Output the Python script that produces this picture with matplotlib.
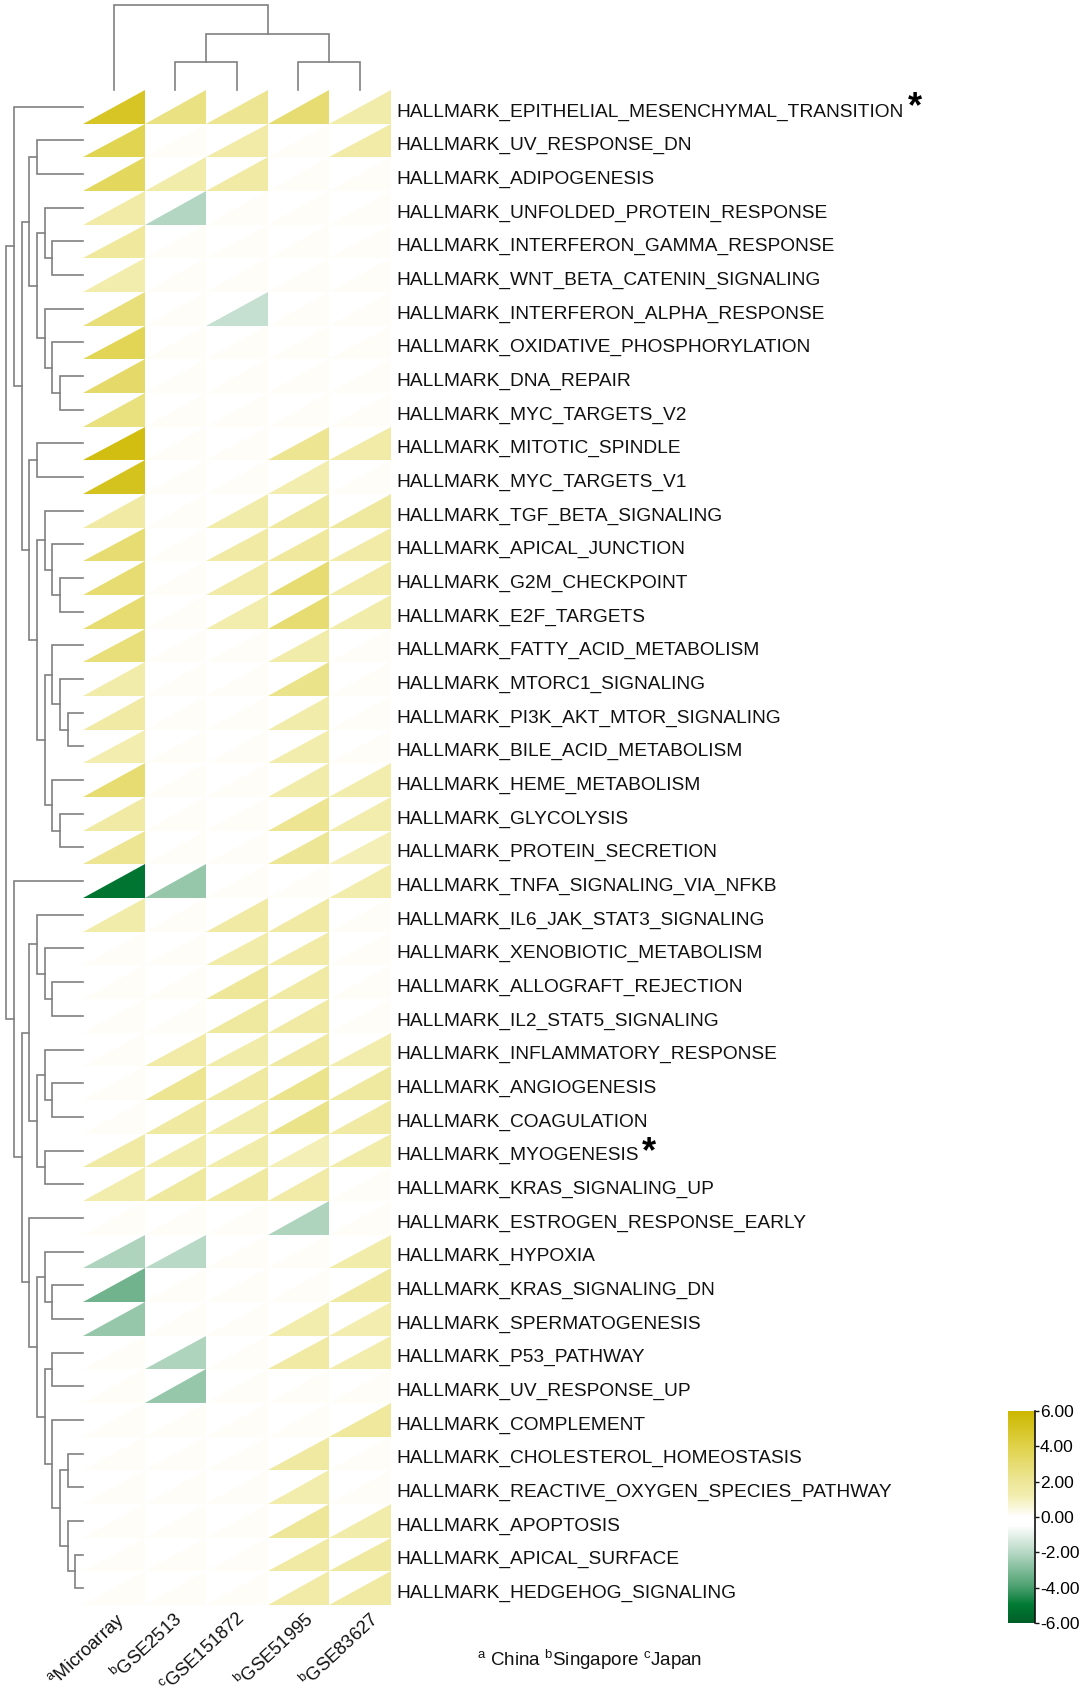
import matplotlib
matplotlib.use('Agg')
import matplotlib.pyplot as plt
from matplotlib.collections import PolyCollection
from matplotlib.colors import LinearSegmentedColormap, Normalize

plt.rcParams['font.family'] = 'Liberation Sans'
plt.rcParams['mathtext.fontset'] = 'custom'
plt.rcParams['mathtext.rm'] = 'Liberation Sans'

W, H = 1085, 1700

pathways = ['EPITHELIAL_MESENCHYMAL_TRANSITION', 'UV_RESPONSE_DN', 'ADIPOGENESIS',
            'UNFOLDED_PROTEIN_RESPONSE', 'INTERFERON_GAMMA_RESPONSE', 'WNT_BETA_CATENIN_SIGNALING',
            'INTERFERON_ALPHA_RESPONSE', 'OXIDATIVE_PHOSPHORYLATION', 'DNA_REPAIR', 'MYC_TARGETS_V2',
            'MITOTIC_SPINDLE', 'MYC_TARGETS_V1', 'TGF_BETA_SIGNALING', 'APICAL_JUNCTION',
            'G2M_CHECKPOINT', 'E2F_TARGETS', 'FATTY_ACID_METABOLISM', 'MTORC1_SIGNALING',
            'PI3K_AKT_MTOR_SIGNALING', 'BILE_ACID_METABOLISM', 'HEME_METABOLISM', 'GLYCOLYSIS',
            'PROTEIN_SECRETION', 'TNFA_SIGNALING_VIA_NFKB', 'IL6_JAK_STAT3_SIGNALING',
            'XENOBIOTIC_METABOLISM', 'ALLOGRAFT_REJECTION', 'IL2_STAT5_SIGNALING',
            'INFLAMMATORY_RESPONSE', 'ANGIOGENESIS', 'COAGULATION', 'MYOGENESIS', 'KRAS_SIGNALING_UP',
            'ESTROGEN_RESPONSE_EARLY', 'HYPOXIA', 'KRAS_SIGNALING_DN', 'SPERMATOGENESIS', 'P53_PATHWAY',
            'UV_RESPONSE_UP', 'COMPLEMENT', 'CHOLESTEROL_HOMEOSTASIS', 'REACTIVE_OXYGEN_SPECIES_PATHWAY',
            'APOPTOSIS', 'APICAL_SURFACE', 'HEDGEHOG_SIGNALING']
datasets = ['$\\mathregular{^{a}}$Microarray', '$\\mathregular{^{b}}$GSE2513', '$\\mathregular{^{c}}$GSE151872',
            '$\\mathregular{^{b}}$GSE51995', '$\\mathregular{^{b}}$GSE83627']

microarray = [5.0, 3.8, 3.5, 1.5, 1.9, 1.3, 2.8, 3.7, 3.2, 2.7, 5.5, 5.2, 1.6, 3.0, 3.0,
              3.0, 2.8, 1.4, 1.6, 1.2, 3.0, 1.6, 2.2, -5.2, 1.4, 0.1, 0.1, 0.1, 0.1, 0.1,
              0.1, 1.6, 1.3, 0.1, -2.2, -3.3, -2.6, 0.1, 0.1, 0.1, 0.1, 0.1, 0.1, 0.1, 0.1]
gse2513 = [2.6, 0.1, 1.4, -2.1, 0.1, 0.1, 0.1, 0.1, 0.1, 0.1, 0.1, 0.1, 0.1, 0.1, 0.1,
           0.1, 0.1, 0.1, 0.1, 0.1, 0.1, 0.1, 0.1, -2.6, 0.1, 0.1, 0.1, 0.1, 1.5, 2.2,
           1.7, 1.4, 1.8, 0.1, -2.0, 0.1, 0.1, -2.2, -2.6, 0.1, 0.1, 0.1, 0.1, 0.1, 0.1]
gse151872 = [2.2, 1.5, 1.6, 0.1, 0.1, 0.1, -1.7, 0.1, 0.1, 0.1, 0.1, 0.1, 1.4, 1.6, 1.5,
             1.3, 0.1, 0.1, 0.1, 0.1, 0.1, 0.1, 0.1, 0.1, 1.6, 1.4, 2.0, 1.8, 1.4, 1.7,
             1.4, 1.4, 1.7, 0.1, 0.1, 0.1, 0.1, 0.1, 0.1, 0.1, 0.1, 0.1, 0.1, 0.1, 0.1]
gse51995 = [3.0, 0.1, 0.1, 0.1, 0.1, 0.1, 0.1, 0.1, 0.1, 0.1, 2.2, 1.2, 1.8, 1.9, 3.0,
            3.0, 1.4, 2.4, 1.4, 1.3, 1.4, 2.2, 2.1, 0.1, 1.6, 1.5, 1.6, 1.6, 1.7, 2.3,
            2.4, 1.1, 1.5, -2.2, 0.1, 0.1, 1.3, 1.6, 0.1, 0.1, 1.7, 1.3, 2.0, 1.6, 1.5]
gse83627 = [1.4, 1.5, 0.1, 0.1, 0.1, 0.1, 0.1, 0.1, 0.1, 0.1, 1.5, 0.1, 1.8, 1.5, 1.5,
            1.4, 0.1, 0.1, 0.1, 0.1, 1.3, 1.3, 1.1, 1.3, 0.1, 0.1, 0.1, 0.1, 1.3, 1.8,
            1.6, 1.4, 0.1, 0.1, 1.4, 1.7, 1.2, 1.3, 0.1, 1.9, 0.1, 0.1, 1.4, 1.7, 1.6]
series = [microarray, gse2513, gse151872, gse51995, gse83627]

# trees as (level, left, right), leaves are plain indices
row_tree = (10,
            (9, 0,
             (8,
              (7, (6, 1, 2),
               (6, (5, 3, (4, 4, 5)),
                (5, 6, (4, 7, (3, 8, 9))))),
              (7, (6, 10, 11),
               (6, (5, 12, (4, 13, (3, 14, 15))),
                (5, (4, 16, (3, 17, (2, 18, 19))),
                 (4, 20, (3, 21, 22))))))),
            (9, 23,
             (8,
              (7, (6, 24, (5, 25, (4, 26, 27))),
               (6, (5, 28, (4, 29, 30)), (5, 31, 32))),
              (7, 33,
               (6, (5, 34, (4, 35, 36)),
                (5, (4, 37, 38),
                 (4, 39, (3, (2, 40, 41), (2, 42, (1, 43, 44))))))))))
col_tree = (3, 0, (2, (1, 1, 2), (1, 3, 4)))

cbar_ticks = [6, 4, 2, 0, -2, -4, -6]

cmap = LinearSegmentedColormap.from_list('gwy', [(0.0, '#005f28'), (1/12, '#007a33'), (1/6, '#4a9f6e'), (1/3, '#b8d9c6'),
                                                 (0.46, '#ffffff'), (0.5, '#ffffff'), (0.6, '#f3eeb0'),
                                                 (2/3, '#eee79a'), (5/6, '#e0d24a'), (1.0, '#ccb800')])
norm = Normalize(-6, 6)

fig = plt.figure(figsize=(W / 100, H / 100), dpi=100)

# heatmap, one unit per cell
left, right, top, bottom = 83, 390.5, 90, 1605
ax = fig.add_axes([left / W, 1 - bottom / H, (right - left) / W, (bottom - top) / H])
ax.set_xlim(0, len(series))
ax.set_ylim(len(pathways), 0)
ax.axis('off')
polys, colors = [], []
for c, vals in enumerate(series):
    for r, v in enumerate(vals):
        polys.append([(c, r + 1), (c + 1, r + 1), (c + 1, r)])
        colors.append(cmap(norm(v)))
ax.add_collection(PolyCollection(polys, facecolors=colors, edgecolors='none'))

for r, name in enumerate(pathways):
    ax.text(len(series) + 0.09, r + 0.66, 'HALLMARK_' + name, fontsize=13.8, va='center', ha='left', color='#111111')

ax.annotate('*', xy=(915 / W, 1 - 108 / H), xycoords='figure fraction', fontsize=26, fontweight='bold', ha='center', va='center')
ax.annotate('*', xy=(649 / W, 1 - 1153 / H), xycoords='figure fraction', fontsize=26, fontweight='bold', ha='center', va='center')

# row dendrogram
step_x = 7.67 / ((right - left) / len(series))
tree_col = '#808080'


def draw_row(node):
    if not isinstance(node, tuple):
        return 0, node + 0.5
    lev, a, b = node
    la, ya = draw_row(a)
    lb, yb = draw_row(b)
    ax.plot([-la * step_x, -lev * step_x, -lev * step_x, -lb * step_x], [ya, ya, yb, yb],
            color=tree_col, lw=1.2, clip_on=False, solid_joinstyle='miter')
    return lev, (ya + yb) / 2


draw_row(row_tree)

# column dendrogram
step_y = 28.2 / ((bottom - top) / len(pathways))


def draw_col(node):
    if not isinstance(node, tuple):
        return 0, node + 0.5
    lev, a, b = node
    la, xa = draw_col(a)
    lb, xb = draw_col(b)
    ax.plot([xa, xa, xb, xb], [-la * step_y, -lev * step_y, -lev * step_y, -lb * step_y],
            color=tree_col, lw=1.2, clip_on=False, solid_joinstyle='miter')
    return lev, (xa + xb) / 2


draw_col(col_tree)

# rotated column names
label_x = [115, 173, 236, 304, 369]
for name, x in zip(datasets, label_x):
    fig.text(x / W, 1 - 1609 / H, name, rotation=43, rotation_mode='anchor', ha='right', va='top',
             fontsize=13.2, color='#111111')

fig.text(477 / W, 1 - 1660 / H,
         '$\\mathregular{^{a}}$ China $\\mathregular{^{b}}$Singapore $\\mathregular{^{c}}$Japan',
         fontsize=13.5, va='center', ha='left', color='#111111')

# colour bar
cax = fig.add_axes([1008 / W, 1 - 1623 / H, 26.5 / W, 212 / H])
grad = [[v] for v in range(600, -601, -1)]
cax.imshow(grad, cmap=cmap, vmin=-600, vmax=600, aspect='auto', extent=[0, 1, -6, 6])
cax.set_xticks([])
cax.yaxis.tick_right()
cax.set_yticks(cbar_ticks)
cax.set_yticklabels(['%.2f' % t for t in cbar_ticks], fontsize=12.5)
cax.tick_params(axis='y', length=3, width=1, pad=1, color='#111111')
for side in ('top', 'left', 'bottom'):
    cax.spines[side].set_visible(False)
cax.spines['right'].set_linewidth(1.2)
cax.spines['right'].set_color('#111111')

fig.savefig('out.png', dpi=100)
